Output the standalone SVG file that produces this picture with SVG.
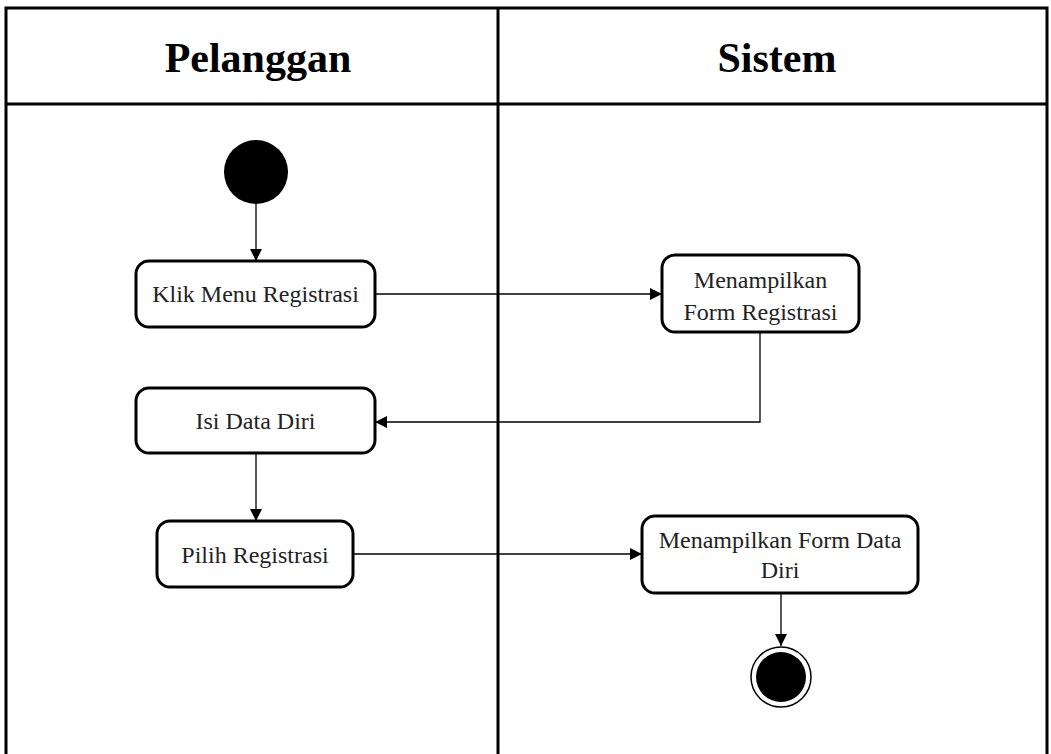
<svg xmlns="http://www.w3.org/2000/svg" width="1051" height="754" viewBox="0 0 1051 754">
<defs>
<marker id="arr" viewBox="0 0 10 10" refX="10" refY="5" markerWidth="12" markerHeight="12" markerUnits="userSpaceOnUse" orient="auto">
<path d="M0,0 L10,5 L0,10 z" fill="#000"/>
</marker>
<style>
.lane{fill:none;stroke:#000;stroke-width:3}
.hdr{font-family:"Liberation Serif",serif;font-weight:bold;font-size:42px;fill:#000;text-anchor:middle}
.box{fill:#fff;stroke:#000;stroke-width:3}
.lbl{font-family:"Liberation Serif",serif;font-size:24px;fill:#222;text-anchor:middle}
.edge{fill:none;stroke:#000;stroke-width:1.3;marker-end:url(#arr)}
</style>
</defs>
<rect width="1051" height="754" fill="#fff"/>
<g id="swimlanes">
<path class="lane" d="M6,760 V8 H1047 V760"/>
<line class="lane" x1="6" y1="104" x2="1047" y2="104"/>
<line class="lane" x1="498" y1="8" x2="498" y2="760"/>
<text class="hdr" x="258" y="72">Pelanggan</text>
<text class="hdr" x="777" y="72">Sistem</text>
</g>
<g id="connectors">
<line class="edge" x1="256" y1="203" x2="256" y2="261"/>
<line class="edge" x1="375" y1="294" x2="662" y2="294"/>
<polyline class="edge" points="760,332 760,422 375,422"/>
<line class="edge" x1="256" y1="453" x2="256" y2="521"/>
<line class="edge" x1="353" y1="554" x2="642" y2="554"/>
<line class="edge" x1="781" y1="593" x2="781" y2="646"/>
</g>
<g id="start"><circle cx="256" cy="172" r="32" fill="#000"/></g>
<g id="klik-menu-registrasi">
<rect class="box" x="136" y="261" width="239" height="66" rx="13"/>
<text class="lbl" x="255.5" y="302">Klik Menu Registrasi</text>
</g>
<g id="menampilkan-form-registrasi">
<rect class="box" x="662" y="255" width="197" height="77" rx="13"/>
<text class="lbl" x="760.5" y="288">Menampilkan</text>
<text class="lbl" x="760.5" y="320">Form Registrasi</text>
</g>
<g id="isi-data-diri">
<rect class="box" x="136" y="388" width="239" height="65" rx="13"/>
<text class="lbl" x="255.5" y="429">Isi Data Diri</text>
</g>
<g id="pilih-registrasi">
<rect class="box" x="157" y="521" width="196" height="66" rx="13"/>
<text class="lbl" x="255" y="563">Pilih Registrasi</text>
</g>
<g id="menampilkan-form-data-diri">
<rect class="box" x="642" y="516" width="276" height="77" rx="13"/>
<text class="lbl" x="780" y="548">Menampilkan Form Data</text>
<text class="lbl" x="780" y="578">Diri</text>
</g>
<g id="end">
<circle cx="781" cy="677" r="30" fill="#fff" stroke="#000" stroke-width="1.5"/>
<circle cx="781" cy="677" r="25" fill="#000"/>
</g>
</svg>
